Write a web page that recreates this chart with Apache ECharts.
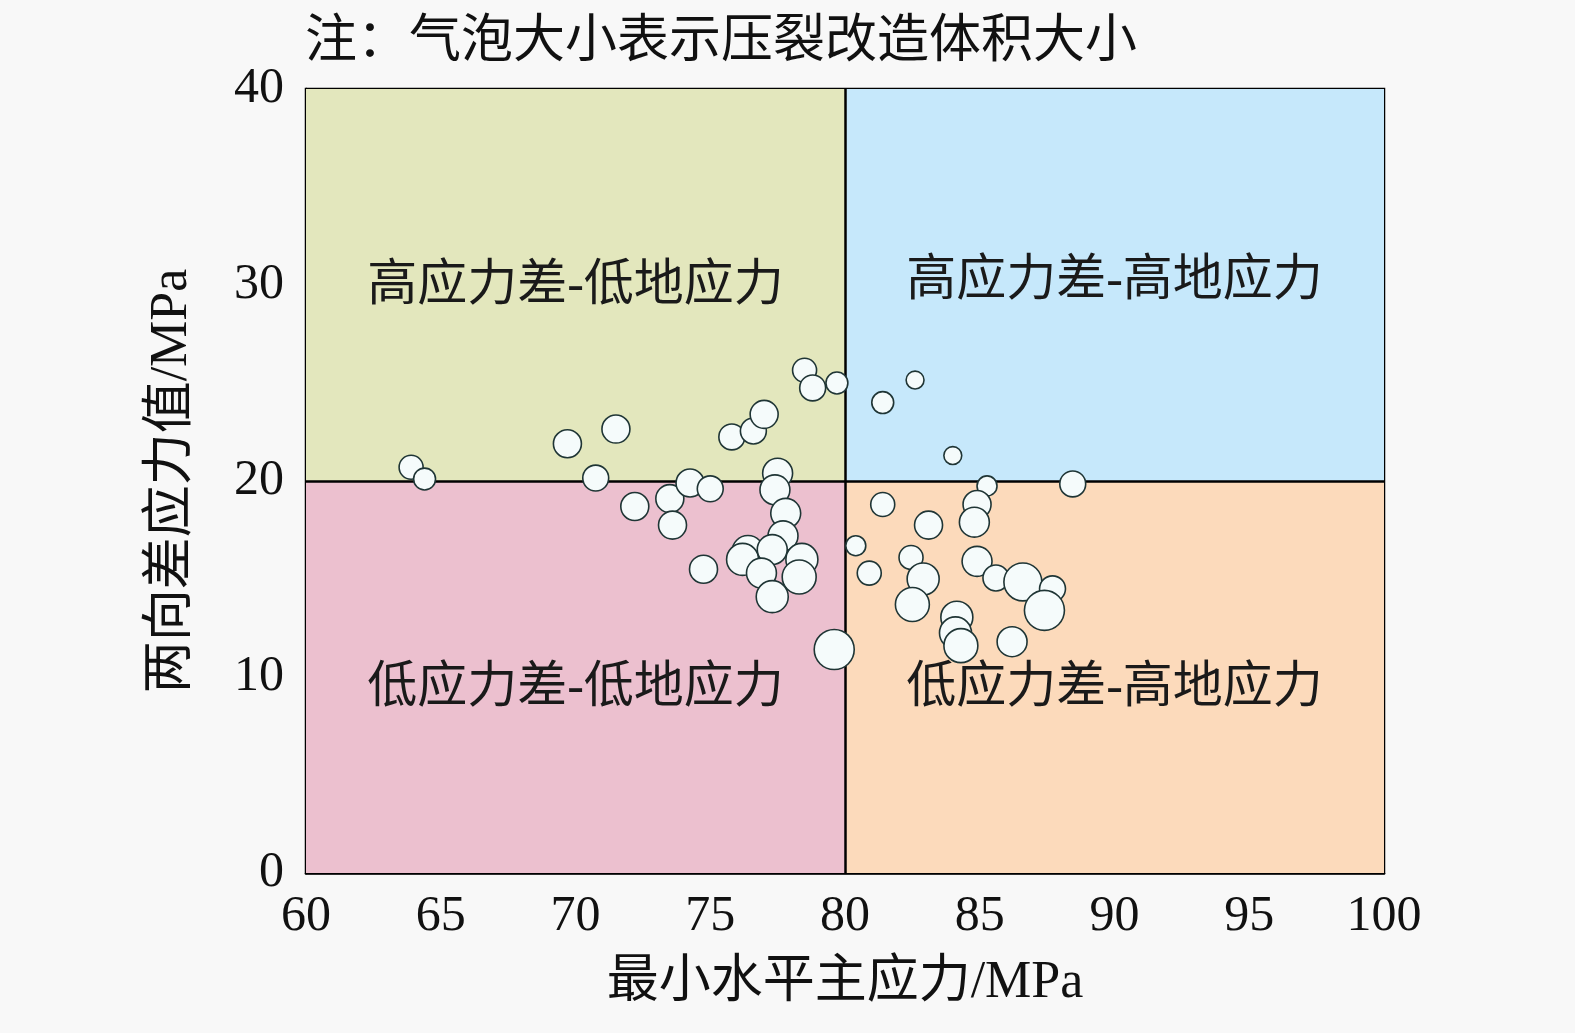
<!DOCTYPE html>
<html>
<head>
<meta charset="utf-8">
<script src="https://cdn.jsdelivr.net/npm/echarts@6/dist/echarts.min.js"></script>
<style>
html,body{margin:0;padding:0;background:#f8f8f8;}
#chart{width:1575px;height:1033px;}
</style>
</head>
<body>
<div id="chart"></div>
<script>
// ---- data ----
var titleText = '注：气泡大小表示压裂改造体积大小';
var xAxisName = '最小水平主应力/MPa';
var yAxisName = '两向差应力值/MPa';
var xTicks = [60, 65, 70, 75, 80, 85, 90, 95, 100];
var yTicks = [0, 10, 20, 30, 40];
var xSplit = 80;
var ySplit = 20;
var quadrantNames = ['高应力差-低地应力', '高应力差-高地应力', '低应力差-低地应力', '低应力差-高地应力'];
// minimum horizontal principal stress (MPa)
var stressMin = [63.9, 64.4, 69.7, 71.5, 70.75, 72.2, 73.5, 73.6, 74.25, 75.0, 74.75, 75.8, 76.6, 77.0,
  78.5, 78.8, 79.7, 77.5, 77.4, 77.8, 77.7, 76.4, 76.2, 77.3, 76.9, 78.4, 78.3, 77.3, 79.6,
  82.6, 81.4, 84.0, 85.27, 88.45, 81.4, 83.1, 84.9, 84.8, 80.4, 80.9, 82.45, 82.9, 82.5,
  84.9, 85.6, 86.6, 87.7, 87.4, 84.15, 84.1, 84.3, 86.2];
// horizontal stress difference (MPa)
var stressDiff = [20.7, 20.1, 21.9, 22.65, 20.15, 18.7, 19.1, 17.75, 19.9, 19.6, 15.5, 22.25, 22.55, 23.4,
  25.65, 24.75, 25.0, 20.4, 19.55, 18.35, 17.2, 16.4, 16.0, 16.5, 15.3, 16.0, 15.1, 14.1, 11.4,
  25.15, 24.0, 21.3, 19.75, 19.85, 18.8, 17.75, 18.8, 17.9, 16.7, 15.3, 16.1, 15.0, 13.7,
  15.9, 15.05, 14.85, 14.5, 13.4, 13.05, 12.25, 11.6, 11.8];
// fracturing stimulated volume (relative)
var stimVolume = [36, 30, 49, 49, 42, 49, 49, 49, 49, 42, 49, 42, 42, 49,
  36, 42, 30, 56, 56, 56, 56, 64, 64, 56, 56, 64, 72, 64, 100,
  20, 30, 20, 25, 42, 36, 49, 49, 56, 25, 36, 36, 64, 72,
  56, 42, 90, 42, 100, 64, 64, 72, 56];

var points = stressMin.map(function (x, i) { return [x, stressDiff[i], stimVolume[i]]; });

var chart = echarts.init(document.getElementById('chart'));
var serif = '"Liberation Serif", "Times New Roman", "Noto Sans CJK SC", serif';
var qLabel = function (txt, dy) {
  return { show: true, position: 'inside', offset: [0, dy], formatter: txt, fontFamily: serif, fontSize: 50, color: '#1a1a1a' };
};
var option = {
  backgroundColor: '#f8f8f8',
  animation: false,
  title: {
    text: titleText, left: 300, top: 12,
    textStyle: { fontFamily: serif, fontSize: 52, fontWeight: 'normal', color: '#111' }
  },
  grid: { left: 306, top: 89, right: 191, bottom: 160, show: true, borderColor: '#000', borderWidth: 2.5, backgroundColor: 'transparent' },
  xAxis: {
    type: 'value', min: xTicks[0], max: xTicks[xTicks.length - 1], interval: 5,
    name: xAxisName, nameLocation: 'middle', nameGap: 84,
    nameTextStyle: { fontFamily: serif, fontSize: 52, color: '#111' },
    axisLine: { show: true, lineStyle: { color: '#000', width: 2.5 } },
    axisTick: { show: true, inside: true, length: 13, lineStyle: { color: '#000', width: 2 } },
    axisLabel: { fontFamily: serif, fontSize: 50, color: '#111', margin: 19 },
    splitLine: { show: false }
  },
  yAxis: {
    type: 'value', min: yTicks[0], max: yTicks[yTicks.length - 1], interval: 10,
    name: yAxisName, nameLocation: 'middle', nameGap: 108, nameRotate: 90,
    nameTextStyle: { fontFamily: serif, fontSize: 52, color: '#111' },
    axisLine: { show: true, lineStyle: { color: '#000', width: 2.5 } },
    axisTick: { show: true, inside: true, length: 13, lineStyle: { color: '#000', width: 2 } },
    axisLabel: { fontFamily: serif, fontSize: 50, color: '#111', margin: 22 },
    splitLine: { show: false }
  },
  series: [{
    type: 'scatter',
    data: points,
    symbolSize: function (d) { return Math.sqrt(d[2]) * 4; },
    itemStyle: { color: '#f5fbfb', borderColor: '#1f3535', borderWidth: 1.6, opacity: 1 },
    z: 5,
    markArea: {
      silent: true,
      z: 1,
      data: [
        [{ coord: [xTicks[0], ySplit], itemStyle: { color: '#e3e7bd' }, label: qLabel(quadrantNames[0], 2) }, { coord: [xSplit, yTicks[yTicks.length - 1]] }],
        [{ coord: [xSplit, ySplit], itemStyle: { color: '#c6e8fb' }, label: qLabel(quadrantNames[1], -3) }, { coord: [xTicks[xTicks.length - 1], yTicks[yTicks.length - 1]] }],
        [{ coord: [xTicks[0], yTicks[0]], itemStyle: { color: '#ecc0cf' }, label: qLabel(quadrantNames[2], 12) }, { coord: [xSplit, ySplit] }],
        [{ coord: [xSplit, yTicks[0]], itemStyle: { color: '#fcdabb' }, label: qLabel(quadrantNames[3], 12) }, { coord: [xTicks[xTicks.length - 1], ySplit] }]
      ]
    },
    markLine: {
      silent: true, symbol: 'none', z: 3,
      label: { show: false },
      lineStyle: { color: '#000', width: 2.5, type: 'solid' },
      data: [{ xAxis: xSplit }, { yAxis: ySplit }]
    }
  }]
};
chart.setOption(option);
</script>
</body>
</html>
